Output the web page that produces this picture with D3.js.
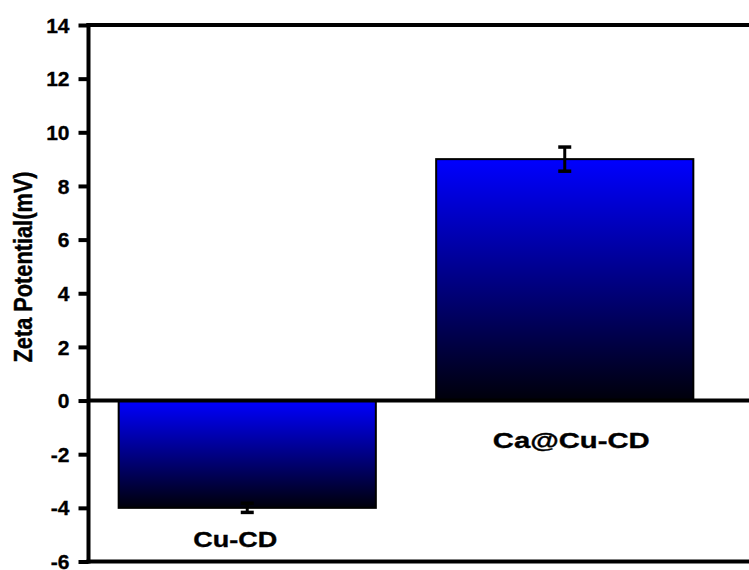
<!DOCTYPE html>
<html>
<head>
<meta charset="utf-8">
<script src="https://cdn.jsdelivr.net/npm/d3@7"></script>
<style>
  html, body { margin: 0; padding: 0; background: #fff; }
  svg { display: block; }
  text { font-family: "Liberation Sans", Arial, sans-serif; font-weight: bold; fill: #000; stroke: #000; stroke-width: 0.35px; }
</style>
</head>
<body>
<script>
const categories = ["Cu-CD", "Ca@Cu-CD"];
const values = [-4.0, 9.0];
const errors = [0.17, 0.45];
const yTicks = [-6, -4, -2, 0, 2, 4, 6, 8, 10, 12, 14];
const yTitle = "Zeta Potential(mV)";

(function () {
const W = 749, H = 570;
const svg = d3.select("body").append("svg").attr("width", W).attr("height", H);

const defs = svg.append("defs");
const grad = defs.append("linearGradient").attr("id", "barGrad")
  .attr("x1", 0).attr("y1", 0).attr("x2", 0).attr("y2", 1);
grad.append("stop").attr("offset", "0%").attr("stop-color", "#0000ff");
grad.append("stop").attr("offset", "100%").attr("stop-color", "#00000a");

const mLeft = 88.5, mTop = 25, mBottom = 561.5;
const y = d3.scaleLinear().domain([-6, 14]).range([mBottom, mTop]);
const x = d3.scaleBand().domain(categories).range([mLeft, mLeft + 635])
  .paddingInner(0.19).paddingOuter(0.095);

// bars
const data = categories.map((c, i) => ({ c, v: values[i], e: errors[i] }));
svg.selectAll("rect.bar").data(data).enter().append("rect")
  .attr("class", "bar")
  .attr("x", d => x(d.c))
  .attr("y", d => y(Math.max(0, d.v)))
  .attr("width", x.bandwidth())
  .attr("height", d => Math.abs(y(d.v) - y(0)))
  .attr("fill", "url(#barGrad)")
  .attr("stroke", "#000").attr("stroke-width", 2);

// error bars
const eb = svg.selectAll("g.err").data(data).enter().append("g").attr("class", "err");
eb.append("line")
  .attr("x1", d => x(d.c) + x.bandwidth() / 2).attr("x2", d => x(d.c) + x.bandwidth() / 2)
  .attr("y1", d => y(d.v + d.e)).attr("y2", d => y(d.v - d.e))
  .attr("stroke", "#000").attr("stroke-width", 3);
[1, -1].forEach(s => {
  eb.append("line")
    .attr("x1", d => x(d.c) + x.bandwidth() / 2 - 6.5).attr("x2", d => x(d.c) + x.bandwidth() / 2 + 6.5)
    .attr("y1", d => y(d.v + s * d.e)).attr("y2", d => y(d.v + s * d.e))
    .attr("stroke", "#000").attr("stroke-width", 3.5);
});

// zero line, top and bottom frame
svg.append("line").attr("x1", mLeft).attr("x2", W + 5).attr("y1", y(0)).attr("y2", y(0))
  .attr("stroke", "#000").attr("stroke-width", 4);
svg.append("line").attr("x1", mLeft - 2).attr("x2", W + 5).attr("y1", y(14)).attr("y2", y(14))
  .attr("stroke", "#000").attr("stroke-width", 4);
svg.append("line").attr("x1", mLeft - 2).attr("x2", W + 5).attr("y1", y(-6)).attr("y2", y(-6))
  .attr("stroke", "#000").attr("stroke-width", 4);

// y axis
const yAxis = d3.axisLeft(y).tickValues(yTicks).tickSize(10).tickPadding(9).tickFormat(d => String(d));
const gy = svg.append("g").attr("transform", `translate(${mLeft},0)`).call(yAxis);
gy.select(".domain").attr("stroke", "#000").attr("stroke-width", 4)
  .attr("d", `M0,${mTop - 2}V${mBottom + 2}`);
gy.selectAll(".tick line").attr("stroke", "#000").attr("stroke-width", 4);
gy.selectAll(".tick text").style("font-size", "21px").style("font-family", "'Liberation Sans', Arial, sans-serif")
  .style("font-weight", "bold").attr("fill", "#000").attr("dy", "0.34em");

// y title
svg.append("text")
  .attr("transform", `translate(32,${267}) rotate(-90) scale(1,1.15)`)
  .attr("text-anchor", "middle")
  .attr("textLength", 191)
  .attr("lengthAdjust", "spacingAndGlyphs")
  .style("font-size", "22px")
  .text(yTitle);

// category labels
const labelOffsets = [{ dx: -12, y: y(values[0]) + 39, len: 84 }, { dx: 6.5, y: y(0) + 47, len: 157 }];
svg.selectAll("text.cat").data(data).enter().append("text")
  .attr("class", "cat")
  .attr("x", (d, i) => x(d.c) + x.bandwidth() / 2 + labelOffsets[i].dx - labelOffsets[i].len / 2)
  .attr("y", (d, i) => labelOffsets[i].y)
  .attr("textLength", (d, i) => labelOffsets[i].len)
  .attr("lengthAdjust", "spacingAndGlyphs")
  .style("font-size", "22px")
  .text(d => d.c);
})();
</script>
</body>
</html>
